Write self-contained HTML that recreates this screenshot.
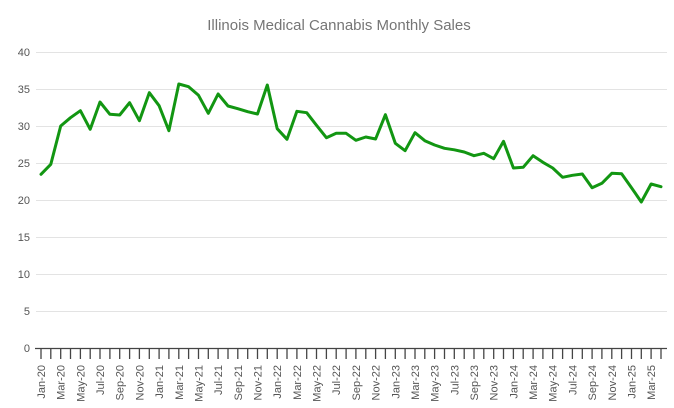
<!DOCTYPE html>
<html><head><meta charset="utf-8"><style>
html,body{margin:0;padding:0;background:#fff;}
svg{display:block;font-family:"Liberation Sans",Arial,sans-serif;}
</style></head><body>
<svg width="674" height="408" viewBox="0 0 674 408" xmlns="http://www.w3.org/2000/svg">
<rect width="674" height="408" fill="#fff"/>
<text x="339" y="30" text-anchor="middle" font-size="15" fill="#757575">Illinois Medical Cannabis Monthly Sales</text>
<g stroke="#e3e3e3" stroke-width="1">
<line x1="36" y1="52.5" x2="667" y2="52.5"/>
<line x1="36" y1="89.5" x2="667" y2="89.5"/>
<line x1="36" y1="126.5" x2="667" y2="126.5"/>
<line x1="36" y1="163.5" x2="667" y2="163.5"/>
<line x1="36" y1="200.5" x2="667" y2="200.5"/>
<line x1="36" y1="237.5" x2="667" y2="237.5"/>
<line x1="36" y1="274.5" x2="667" y2="274.5"/>
<line x1="36" y1="311.5" x2="667" y2="311.5"/>
</g>
<g font-size="11" fill="#555" text-anchor="end">
<text x="30" y="56">40</text>
<text x="30" y="93">35</text>
<text x="30" y="130">30</text>
<text x="30" y="167">25</text>
<text x="30" y="204">20</text>
<text x="30" y="241">15</text>
<text x="30" y="278">10</text>
<text x="30" y="315">5</text>
<text x="30" y="352">0</text>
</g>
<line x1="35" y1="348.5" x2="667" y2="348.5" stroke="#444" stroke-width="1.3"/>
<g stroke="#444" stroke-width="1.3">
<line x1="41.0" y1="348" x2="41.0" y2="359"/><line x1="50.8" y1="348" x2="50.8" y2="359"/><line x1="60.7" y1="348" x2="60.7" y2="359"/><line x1="70.5" y1="348" x2="70.5" y2="359"/><line x1="80.4" y1="348" x2="80.4" y2="359"/><line x1="90.2" y1="348" x2="90.2" y2="359"/><line x1="100.0" y1="348" x2="100.0" y2="359"/><line x1="109.9" y1="348" x2="109.9" y2="359"/><line x1="119.7" y1="348" x2="119.7" y2="359"/><line x1="129.6" y1="348" x2="129.6" y2="359"/><line x1="139.4" y1="348" x2="139.4" y2="359"/><line x1="149.3" y1="348" x2="149.3" y2="359"/><line x1="159.1" y1="348" x2="159.1" y2="359"/><line x1="168.9" y1="348" x2="168.9" y2="359"/><line x1="178.8" y1="348" x2="178.8" y2="359"/><line x1="188.6" y1="348" x2="188.6" y2="359"/><line x1="198.5" y1="348" x2="198.5" y2="359"/><line x1="208.3" y1="348" x2="208.3" y2="359"/><line x1="218.1" y1="348" x2="218.1" y2="359"/><line x1="228.0" y1="348" x2="228.0" y2="359"/><line x1="237.8" y1="348" x2="237.8" y2="359"/><line x1="247.7" y1="348" x2="247.7" y2="359"/><line x1="257.5" y1="348" x2="257.5" y2="359"/><line x1="267.3" y1="348" x2="267.3" y2="359"/><line x1="277.2" y1="348" x2="277.2" y2="359"/><line x1="287.0" y1="348" x2="287.0" y2="359"/><line x1="296.9" y1="348" x2="296.9" y2="359"/><line x1="306.7" y1="348" x2="306.7" y2="359"/><line x1="316.5" y1="348" x2="316.5" y2="359"/><line x1="326.4" y1="348" x2="326.4" y2="359"/><line x1="336.2" y1="348" x2="336.2" y2="359"/><line x1="346.1" y1="348" x2="346.1" y2="359"/><line x1="355.9" y1="348" x2="355.9" y2="359"/><line x1="365.8" y1="348" x2="365.8" y2="359"/><line x1="375.6" y1="348" x2="375.6" y2="359"/><line x1="385.4" y1="348" x2="385.4" y2="359"/><line x1="395.3" y1="348" x2="395.3" y2="359"/><line x1="405.1" y1="348" x2="405.1" y2="359"/><line x1="415.0" y1="348" x2="415.0" y2="359"/><line x1="424.8" y1="348" x2="424.8" y2="359"/><line x1="434.6" y1="348" x2="434.6" y2="359"/><line x1="444.5" y1="348" x2="444.5" y2="359"/><line x1="454.3" y1="348" x2="454.3" y2="359"/><line x1="464.2" y1="348" x2="464.2" y2="359"/><line x1="474.0" y1="348" x2="474.0" y2="359"/><line x1="483.8" y1="348" x2="483.8" y2="359"/><line x1="493.7" y1="348" x2="493.7" y2="359"/><line x1="503.5" y1="348" x2="503.5" y2="359"/><line x1="513.4" y1="348" x2="513.4" y2="359"/><line x1="523.2" y1="348" x2="523.2" y2="359"/><line x1="533.1" y1="348" x2="533.1" y2="359"/><line x1="542.9" y1="348" x2="542.9" y2="359"/><line x1="552.7" y1="348" x2="552.7" y2="359"/><line x1="562.6" y1="348" x2="562.6" y2="359"/><line x1="572.4" y1="348" x2="572.4" y2="359"/><line x1="582.3" y1="348" x2="582.3" y2="359"/><line x1="592.1" y1="348" x2="592.1" y2="359"/><line x1="601.9" y1="348" x2="601.9" y2="359"/><line x1="611.8" y1="348" x2="611.8" y2="359"/><line x1="621.6" y1="348" x2="621.6" y2="359"/><line x1="631.5" y1="348" x2="631.5" y2="359"/><line x1="641.3" y1="348" x2="641.3" y2="359"/><line x1="651.1" y1="348" x2="651.1" y2="359"/><line x1="661.0" y1="348" x2="661.0" y2="359"/>
</g>
<g font-size="11" fill="#555" text-anchor="end">
<text transform="translate(45,365) rotate(-90)">Jan-20</text>
<text transform="translate(64.7,365) rotate(-90)">Mar-20</text>
<text transform="translate(84.4,365) rotate(-90)">May-20</text>
<text transform="translate(104,365) rotate(-90)">Jul-20</text>
<text transform="translate(123.7,365) rotate(-90)">Sep-20</text>
<text transform="translate(143.4,365) rotate(-90)">Nov-20</text>
<text transform="translate(163.1,365) rotate(-90)">Jan-21</text>
<text transform="translate(182.8,365) rotate(-90)">Mar-21</text>
<text transform="translate(202.5,365) rotate(-90)">May-21</text>
<text transform="translate(222.1,365) rotate(-90)">Jul-21</text>
<text transform="translate(241.8,365) rotate(-90)">Sep-21</text>
<text transform="translate(261.5,365) rotate(-90)">Nov-21</text>
<text transform="translate(281.2,365) rotate(-90)">Jan-22</text>
<text transform="translate(300.9,365) rotate(-90)">Mar-22</text>
<text transform="translate(320.5,365) rotate(-90)">May-22</text>
<text transform="translate(340.2,365) rotate(-90)">Jul-22</text>
<text transform="translate(359.9,365) rotate(-90)">Sep-22</text>
<text transform="translate(379.6,365) rotate(-90)">Nov-22</text>
<text transform="translate(399.3,365) rotate(-90)">Jan-23</text>
<text transform="translate(419,365) rotate(-90)">Mar-23</text>
<text transform="translate(438.6,365) rotate(-90)">May-23</text>
<text transform="translate(458.3,365) rotate(-90)">Jul-23</text>
<text transform="translate(478,365) rotate(-90)">Sep-23</text>
<text transform="translate(497.7,365) rotate(-90)">Nov-23</text>
<text transform="translate(517.4,365) rotate(-90)">Jan-24</text>
<text transform="translate(537.1,365) rotate(-90)">Mar-24</text>
<text transform="translate(556.7,365) rotate(-90)">May-24</text>
<text transform="translate(576.4,365) rotate(-90)">Jul-24</text>
<text transform="translate(596.1,365) rotate(-90)">Sep-24</text>
<text transform="translate(615.8,365) rotate(-90)">Nov-24</text>
<text transform="translate(635.5,365) rotate(-90)">Jan-25</text>
<text transform="translate(655.1,365) rotate(-90)">Mar-25</text>
</g>
<polyline fill="none" stroke="#129612" stroke-width="3" stroke-linejoin="round" stroke-linecap="round" points="41.0,174.3 50.8,164.3 60.7,126 70.5,117.7 80.4,110.7 90.2,129.3 100.0,102 109.9,114.3 119.7,115 129.6,102.7 139.4,120.7 149.3,92.7 159.1,105.7 168.9,130.7 178.8,84 188.6,86.7 198.5,95.3 208.3,113.3 218.1,94 228.0,106 237.8,108.7 247.7,111.7 257.5,114 267.3,85 277.2,128.7 287.0,139.3 296.9,111.3 306.7,112.7 316.5,125.3 326.4,137.7 336.2,133.3 346.1,133.3 355.9,140.3 365.8,137 375.6,139 385.4,114.7 395.3,143.3 405.1,150.7 415.0,132.7 424.8,140.7 434.6,145 444.5,148.3 454.3,149.8 464.2,152 474.0,155.7 483.8,153.3 493.7,158.7 503.5,141.3 513.4,168 523.2,167.3 533.1,155.7 542.9,162.3 552.7,168 562.6,177.3 572.4,175.3 582.3,174 592.1,187.7 601.9,183.3 611.8,173.3 621.6,173.7 631.5,187.7 641.3,202 651.1,184 661.0,186.7"/>
</svg>
</body></html>
